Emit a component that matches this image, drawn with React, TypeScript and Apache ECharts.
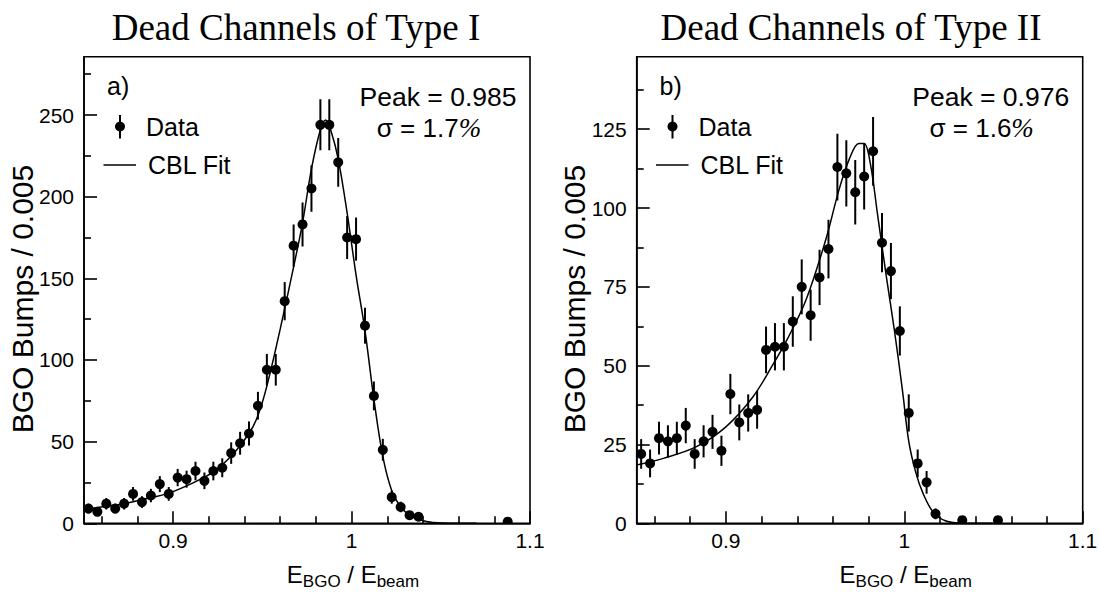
import React, { useEffect, useRef } from "react";
import * as echarts from "echarts";

// ---------- data ----------
const leftBins = [
  0.8525, 0.8575, 0.8625, 0.8675, 0.8725, 0.8775, 0.8825, 0.8875, 0.8925, 0.8975,
  0.9025, 0.9075, 0.9125, 0.9175, 0.9225, 0.9275, 0.9325, 0.9375, 0.9425, 0.9475,
  0.9525, 0.9575, 0.9625, 0.9675, 0.9725, 0.9775, 0.9825, 0.9875, 0.9925, 0.9975,
  1.0025, 1.0075, 1.0125, 1.0175, 1.0225, 1.0275, 1.0325, 1.0375, 1.0875,
];
const leftCounts = [
  9, 7, 12, 9, 12, 18, 13, 17, 24, 18,
  28, 27, 32, 26, 32, 34, 43, 49, 55, 72,
  94, 94, 136, 170, 183, 205, 244, 244, 221, 175,
  174, 121, 78, 45, 16, 10, 5, 4, 1,
];
const leftErrors = [
  3.0, 2.6, 3.5, 3.0, 3.5, 4.2, 3.6, 4.1, 4.9, 4.2,
  5.3, 5.2, 5.7, 5.1, 5.7, 5.8, 6.6, 7.0, 7.4, 8.5,
  9.7, 9.7, 11.7, 13.0, 13.5, 14.3, 15.6, 15.6, 14.9, 13.2,
  13.2, 11.0, 8.8, 6.7, 4.0, 3.2, 2.2, 2.0, 1.0,
];
const leftFitX = [
  0.85, 0.8625, 0.8725, 0.8825, 0.8975, 0.9125, 0.9225, 0.9325, 0.9425, 0.9475,
  0.9525, 0.96, 0.9675, 0.9725, 0.9775, 0.9825, 0.9855, 0.9885, 0.9925, 0.9975,
  1.0025, 1.0075, 1.0125, 1.0175, 1.0225, 1.0275, 1.0325, 1.0375, 1.0455, 1.06, 1.07,
];
const leftFitY = [
  8.5, 10.5, 12, 14.5, 18.5, 25.5, 31.5, 41, 55, 66,
  84, 119, 157, 184, 217, 241, 247, 240, 223, 190,
  152, 118, 76, 41, 20, 10, 5, 2.5, 0.5, 0, 0,
];

const rightBins = [
  0.8525, 0.8575, 0.8625, 0.8675, 0.8725, 0.8775, 0.8825, 0.8875, 0.8925, 0.8975,
  0.9025, 0.9075, 0.9125, 0.9175, 0.9225, 0.9275, 0.9325, 0.9375, 0.9425, 0.9475,
  0.9525, 0.9575, 0.9625, 0.9675, 0.9725, 0.9775, 0.9825, 0.9875, 0.9925, 0.9975,
  1.0025, 1.0075, 1.0125, 1.0175, 1.0325, 1.0525,
];
const rightCounts = [
  22, 19, 27, 26, 27, 31, 22, 26, 29, 23,
  41, 32, 35, 36, 55, 56, 56, 64, 75, 66,
  78, 87, 113, 111, 105, 110, 118, 89, 80, 61,
  35, 19, 13, 3, 1, 1,
];
const rightErrors = [
  4.7, 4.4, 5.2, 5.1, 5.2, 5.6, 4.7, 5.1, 5.4, 4.8,
  6.4, 5.7, 5.9, 6.0, 7.4, 7.5, 7.5, 8.0, 8.7, 8.1,
  8.8, 9.3, 10.6, 10.5, 10.2, 10.5, 10.9, 9.4, 8.9, 7.8,
  5.9, 4.4, 3.6, 1.7, 1.0, 1.0,
];
const rightFitX = [
  0.85, 0.865, 0.8835, 0.9, 0.915, 0.926, 0.9345, 0.945, 0.956, 0.9635,
  0.9695, 0.9745, 0.9775, 0.981, 0.985, 0.99, 0.9945, 0.999, 1.0025, 1.0065,
  1.0105, 1.016, 1.023, 1.033, 1.05,
];
const rightFitY = [
  18.5, 20.6, 24.3, 30.6, 40, 50, 58.5, 71, 90, 106,
  116, 120.5, 120.5, 114, 98, 78, 61, 42, 26, 16,
  9.5, 3.7, 0.8, 0, 0,
];

const xMajorTicks = [0.9, 1, 1.1];
const xMinorTicks = [0.86, 0.88, 0.92, 0.94, 0.96, 0.98, 1.02, 1.04, 1.06, 1.08];
const leftYMajor = [0, 50, 100, 150, 200, 250];
const leftYMinor = [25, 75, 125, 175, 225, 275];
const rightYMajor = [0, 25, 50, 75, 100, 125];
const rightYMinor = [12.5, 37.5, 62.5, 87.5, 112.5, 137.5];

const titles = ["Dead Channels of Type I", "Dead Channels of Type II"];
const panelTags = ["a)", "b)"];
const peakTexts = ["Peak = 0.985", "Peak = 0.976"];
const sigmaTexts = ["1.7", "1.6"];
const yAxisName = "BGO Bumps / 0.005";

// ---------- layout ----------
const SANS = "'Liberation Sans', Arial, Helvetica, sans-serif";
const SERIF = "'Liberation Serif', 'Times New Roman', serif";
const GRID_TOP = 56.7;
const GRID_H = 466.6;
const GRID_W = 446;
const GRID_LEFTS = [84, 636.7];
const X_MIN = 0.85;
const X_MAX = 1.1;
const Y_MAX = [285.7, 148];

function buildOption() {
  const grids: any[] = [];
  const xAxes: any[] = [];
  const yAxes: any[] = [];
  const series: any[] = [];
  const graphics: any[] = [];

  const panels = [
    { bins: leftBins, counts: leftCounts, errs: leftErrors, fx: leftFitX, fy: leftFitY, yMaj: leftYMajor, yMin: leftYMinor },
    { bins: rightBins, counts: rightCounts, errs: rightErrors, fx: rightFitX, fy: rightFitY, yMaj: rightYMajor, yMin: rightYMinor },
  ];

  panels.forEach((p, gi) => {
    const left = GRID_LEFTS[gi];
    grids.push({
      left,
      top: GRID_TOP,
      width: GRID_W,
      height: GRID_H,
      show: true,
      borderColor: "#000",
      borderWidth: 1.6,
      backgroundColor: "transparent",
      outerBoundsMode: "none",
      containLabel: false,
    });
    const lineStyle = { color: "#000", width: 1.6 };
    xAxes.push({
      type: "value",
      gridIndex: gi,
      min: X_MIN,
      max: X_MAX,
      position: "bottom",
      axisLine: { show: true, onZero: false, lineStyle },
      axisTick: { show: true, inside: true, length: 12, customValues: xMajorTicks, lineStyle },
      axisLabel: {
        show: true,
        customValues: xMajorTicks,
        formatter: (v: number) => String(v),
        color: "#000",
        fontSize: 21,
        fontFamily: SANS,
        margin: 7,
        showMinLabel: true,
        showMaxLabel: true,
      },
      splitLine: { show: false },
    });
    xAxes.push({
      type: "value",
      gridIndex: gi,
      min: X_MIN,
      max: X_MAX,
      position: "bottom",
      axisLine: { show: false, onZero: false },
      axisTick: { show: true, inside: true, length: 7, customValues: xMinorTicks, lineStyle },
      axisLabel: { show: false },
      splitLine: { show: false },
    });
    yAxes.push({
      type: "value",
      gridIndex: gi,
      min: 0,
      max: Y_MAX[gi],
      position: "left",
      axisLine: { show: true, onZero: false, lineStyle },
      axisTick: { show: true, inside: true, length: 13, customValues: p.yMaj, lineStyle },
      axisLabel: {
        show: true,
        customValues: p.yMaj,
        formatter: (v: number) => String(v),
        color: "#000",
        fontSize: 21,
        fontFamily: SANS,
        margin: 10,
        showMinLabel: true,
      },
      splitLine: { show: false },
    });
    yAxes.push({
      type: "value",
      gridIndex: gi,
      min: 0,
      max: Y_MAX[gi],
      position: "left",
      axisLine: { show: false, onZero: false },
      axisTick: { show: true, inside: true, length: 7, customValues: p.yMin, lineStyle },
      axisLabel: { show: false },
      splitLine: { show: false },
    });

    const xIdx = gi * 2;
    const yIdx = gi * 2;

    series.push({
      type: "line",
      name: "CBL Fit",
      xAxisIndex: xIdx,
      yAxisIndex: yIdx,
      data: p.fx.map((x, i) => [x, p.fy[i]]),
      showSymbol: false,
      smooth: 0.35,
      lineStyle: { color: "#000", width: 1.5 },
      clip: true,
      z: 3,
    });

    series.push({
      type: "custom",
      name: "Data",
      xAxisIndex: xIdx,
      yAxisIndex: yIdx,
      data: p.bins.map((b, i) => [b, p.counts[i], p.errs[i]]),
      encode: { x: 0, y: 1 },
      clip: true,
      z: 4,
      renderItem: (params: any, api: any) => {
        const x = api.value(0);
        const y = api.value(1);
        const e = api.value(2);
        const c = api.coord([x, y]);
        const hi = api.coord([x, y + e]);
        const lo = api.coord([x, Math.max(0, y - e)]);
        return {
          type: "group",
          children: [
            {
              type: "line",
              shape: { x1: c[0], y1: hi[1], x2: c[0], y2: lo[1] },
              style: { stroke: "#000", lineWidth: 2 },
            },
            {
              type: "circle",
              shape: { cx: c[0], cy: c[1], r: 5 },
              style: { fill: "#000" },
            },
          ],
        };
      },
    });

    const dx = gi === 0 ? 0 : 552.5;
    const right = left + GRID_W;
    graphics.push({
      type: "text",
      x: gi === 0 ? 296 : 851,
      y: 27,
      style: { text: titles[gi], font: `37px ${SERIF}`, fill: "#000", align: "center", verticalAlign: "middle" },
    });
    graphics.push({
      type: "text",
      x: 107 + dx,
      y: 86,
      style: { text: panelTags[gi], font: `25px ${SANS}`, fill: "#000", align: "left", verticalAlign: "middle" },
    });
    graphics.push({
      type: "line",
      shape: { x1: 120 + dx, y1: 115, x2: 120 + dx, y2: 138.5 },
      style: { stroke: "#000", lineWidth: 2 },
    });
    graphics.push({
      type: "circle",
      shape: { cx: 120 + dx, cy: 126.5, r: 5 },
      style: { fill: "#000" },
    });
    graphics.push({
      type: "text",
      x: 146 + dx,
      y: 127,
      style: { text: "Data", font: `25px ${SANS}`, fill: "#000", align: "left", verticalAlign: "middle" },
    });
    graphics.push({
      type: "line",
      shape: { x1: 103.5 + dx, y1: 165, x2: 136 + dx, y2: 165 },
      style: { stroke: "#000", lineWidth: 1.5 },
    });
    graphics.push({
      type: "text",
      x: 148 + dx,
      y: 165,
      style: { text: "CBL Fit", font: `25px ${SANS}`, fill: "#000", align: "left", verticalAlign: "middle" },
    });
    graphics.push({
      type: "text",
      x: right - 92,
      y: 97,
      style: { text: peakTexts[gi], font: `26.5px ${SANS}`, fill: "#000", align: "center", verticalAlign: "middle" },
    });
    graphics.push({
      type: "text",
      x: right - 101,
      y: 128,
      style: {
        text: `{n|σ = ${sigmaTexts[gi]}}{p|%}`,
        rich: {
          n: { fontSize: 26, fontFamily: SANS, fill: "#000", color: "#000" },
          p: { fontSize: 27, fontFamily: SERIF, fontStyle: "italic", fill: "#000", color: "#000" },
        },
        align: "center",
        verticalAlign: "middle",
      },
    });
    graphics.push({
      type: "text",
      x: left - 62,
      y: 299,
      rotation: Math.PI / 2,
      style: { text: yAxisName, font: `30px ${SANS}`, fill: "#000", align: "center", verticalAlign: "middle" },
    });
    graphics.push({
      type: "text",
      x: left + 269,
      y: 574,
      style: {
        text: "{e|E}{s|BGO}{e| / E}{s|beam}",
        rich: {
          e: { fontSize: 24, fontFamily: SANS, lineHeight: 32, verticalAlign: "middle", fill: "#000", color: "#000" },
          s: { fontSize: 17, fontFamily: SANS, lineHeight: 17, verticalAlign: "bottom", fill: "#000", color: "#000" },
        },
        align: "center",
        verticalAlign: "middle",
      },
    });
  });

  return {
    animation: false,
    backgroundColor: "#fff",
    grid: grids,
    xAxis: xAxes,
    yAxis: yAxes,
    series,
    graphic: graphics,
  };
}

export default function App() {
  const ref = useRef<HTMLDivElement>(null);
  useEffect(() => {
    if (!ref.current) return;
    const chart = echarts.init(ref.current, undefined, { renderer: "svg" });
    chart.setOption(buildOption() as any);
    return () => chart.dispose();
  }, []);
  return (
    <div
      ref={ref}
      style={{ position: "absolute", left: 0, top: 0, width: 1099, height: 594, background: "#fff" }}
    />
  );
}
